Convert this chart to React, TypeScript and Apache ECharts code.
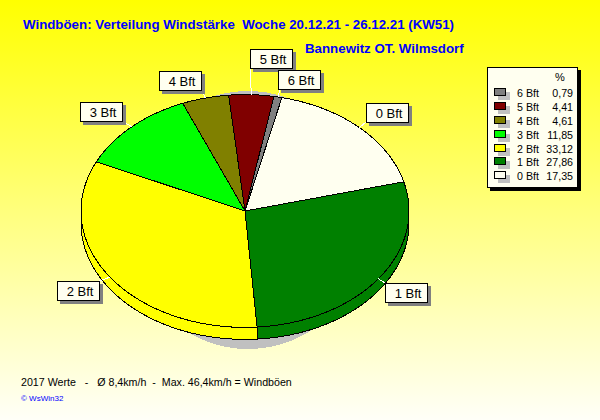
import React, { useEffect, useRef } from "react";
import * as echarts from "echarts";

const categories = ["0 Bft", "1 Bft", "2 Bft", "3 Bft", "4 Bft", "5 Bft", "6 Bft"];
const shares = [17.35, 27.86, 33.12, 11.85, 4.61, 4.41, 0.79];
const shareLabels = ["17,35", "27,86", "33,12", "11,85", "4,61", "4,41", "0,79"];
const sliceColors = ["#FFFFF0", "#008000", "#FFFF00", "#00FF00", "#808000", "#800000", "#808080"];
const labelBoxes = [
  [366, 103], [385, 283], [57, 281], [80, 102], [159, 71], [250, 49], [278, 70],
];
const leaderEnds = [
  [366, 122], [385, 283], [99, 281], [122, 121], [202, 90], [250, 68], [280, 89],
];
const legendOrder = [6, 5, 4, 3, 2, 1, 0];
const legendRows = [93, 107, 121, 135, 149, 162, 176];
const titleText = "Windböen: Verteilung Windstärke  Woche 20.12.21 - 26.12.21 (KW51)";
const subtitleText = "Bannewitz OT. Wilmsdorf";
const footerText = "2017 Werte   -   Ø 8,4km/h  -  Max. 46,4km/h = Windböen";
const creditText = "© WsWin32";

const CX = 245, CY = 211, RX = 164, RY = 116.4, DEPTH = 12, START = 13;
const total = shares.reduce((a, b) => a + b, 0);
const pt = (deg: number, dy = 0) => {
  const r = (deg * Math.PI) / 180;
  return [CX + RX * Math.sin(r), CY - RY * Math.cos(r) + dy];
};
const sliceRange = (i: number) => {
  let acc = 0;
  for (let k = 0; k < i; k++) acc += shares[k];
  const a0 = START + (acc / total) * 360;
  return [a0, a0 + (shares[i] / total) * 360];
};
const arc = (a0: number, a1: number, dy = 0) => {
  const out: number[][] = [];
  const n = Math.max(2, Math.ceil(Math.abs(a1 - a0)));
  for (let k = 0; k <= n; k++) out.push(pt(a0 + ((a1 - a0) * k) / n, dy));
  return out;
};
const FONT = "'Liberation Sans', Arial, sans-serif";

export default function App() {
  const ref = useRef<HTMLDivElement>(null);
  useEffect(() => {
    document.body.style.margin = "0";
    const chart = echarts.init(ref.current!, undefined, { renderer: "svg" });
    const graphics: any[] = [];
    // pie drop shadow
    graphics.push({ type: "ellipse", z: 0, shape: { cx: 248, cy: 220, rx: 122, ry: 129 }, style: { fill: "#C0C0C0" } });
    // labels
    categories.forEach((c, i) => {
      const [x, y] = labelBoxes[i];
      graphics.push({ type: "rect", z: 20, shape: { x: x + 3, y: y + 3, width: 43, height: 20 }, style: { fill: "#808080" } });
      graphics.push({ type: "rect", z: 21, shape: { x: x + 0.5, y: y + 0.5, width: 42, height: 19 }, style: { fill: "#FFFFF0", stroke: "#000", lineWidth: 1 } });
      graphics.push({ type: "text", z: 22, x: x + 23, y: y + 10, style: { text: c, font: `13px ${FONT}`, fill: "#000", align: "center", verticalAlign: "middle" } });
    });
    // legend
    graphics.push({ type: "rect", z: 20, shape: { x: 490, y: 70, width: 91, height: 121 }, style: { fill: "#000" } });
    graphics.push({ type: "rect", z: 21, shape: { x: 487.5, y: 67.5, width: 90, height: 120 }, style: { fill: "#FFFFF0", stroke: "#000", lineWidth: 1 } });
    graphics.push({ type: "text", z: 22, x: 560, y: 77, style: { text: "%", font: `11px ${FONT}`, fill: "#000", align: "center", verticalAlign: "middle" } });
    legendOrder.forEach((idx, row) => {
      const y = legendRows[row];
      graphics.push({ type: "rect", z: 22, shape: { x: 498, y: y - 1, width: 12, height: 8 }, style: { fill: "#C0C0C0" } });
      graphics.push({ type: "rect", z: 23, shape: { x: 494.5, y: y - 4.5, width: 11, height: 7 }, style: { fill: sliceColors[idx], stroke: "#000", lineWidth: 1 } });
      graphics.push({ type: "text", z: 23, x: 517, y, style: { text: categories[idx], font: `10.67px ${FONT}`, fill: "#000", align: "left", verticalAlign: "middle" } });
      graphics.push({ type: "text", z: 23, x: 573, y, style: { text: shareLabels[idx], font: `10.67px ${FONT}`, fill: "#000", align: "right", verticalAlign: "middle" } });
    });
    // footer
    graphics.push({ type: "text", z: 5, x: 21, y: 382, style: { text: footerText, font: `10.67px ${FONT}`, fill: "#000", align: "left", verticalAlign: "middle" } });
    graphics.push({ type: "text", z: 5, x: 21, y: 398, style: { text: creditText, font: `8px ${FONT}`, fill: "#0000FF", align: "left", verticalAlign: "middle" } });

    chart.setOption({
      animation: false,
      backgroundColor: new echarts.graphic.LinearGradient(0, 0, 0, 1, [
        { offset: 0, color: "#FFFF00" },
        { offset: 1, color: "#FFFFF8" },
      ]),
      title: [
        { text: titleText, left: 23, top: 18, textStyle: { fontFamily: FONT, fontSize: 13.3, fontWeight: "bold", color: "#0000FF" }, padding: 0 },
        { text: subtitleText, left: 305, top: 42, textStyle: { fontFamily: FONT, fontSize: 13.3, fontWeight: "bold", color: "#0000FF" }, padding: 0 },
      ],
      graphic: graphics,
      series: [
        {
          type: "custom",
          coordinateSystem: "none",
          z: 2,
          silent: true,
          data: shares.map((v) => [v]),
          renderItem: (params: any) => {
            const [a0, a1] = sliceRange(params.dataIndex);
            const lo = Math.max(a0, 90), hi = Math.min(a1, 270);
            if (hi <= lo) return { type: "group", children: [] };
            const top = arc(lo, hi);
            const bottom = arc(hi, lo, DEPTH);
            return {
              type: "polygon",
              shape: { points: [...top, ...bottom] },
              style: { fill: sliceColors[params.dataIndex], stroke: "#000", lineWidth: 1 },
            };
          },
        },
        {
          type: "custom",
          coordinateSystem: "none",
          z: 3,
          silent: true,
          data: shares.map((v) => [v]),
          renderItem: (params: any) => {
            const i = params.dataIndex;
            const [a0, a1] = sliceRange(i);
            const rim = pt((a0 + a1) / 2);
            return {
              type: "group",
              children: [
                {
                  type: "polygon",
                  shape: { points: [[CX, CY], ...arc(a0, a1)] },
                  style: { fill: sliceColors[i], stroke: "#000", lineWidth: 1 },
                },
                {
                  type: "line",
                  shape: { x1: leaderEnds[i][0], y1: leaderEnds[i][1], x2: rim[0], y2: rim[1] },
                  style: { stroke: "#FFFFFF", lineWidth: 1 },
                },
              ],
            };
          },
        },
      ],
    });
    return () => chart.dispose();
  }, []);
  return (
    <>
      <style>{`.pie-root svg path{shape-rendering:crispEdges}`}</style>
      <div className="pie-root" ref={ref} style={{ width: 600, height: 420 }} />
    </>
  );
}
